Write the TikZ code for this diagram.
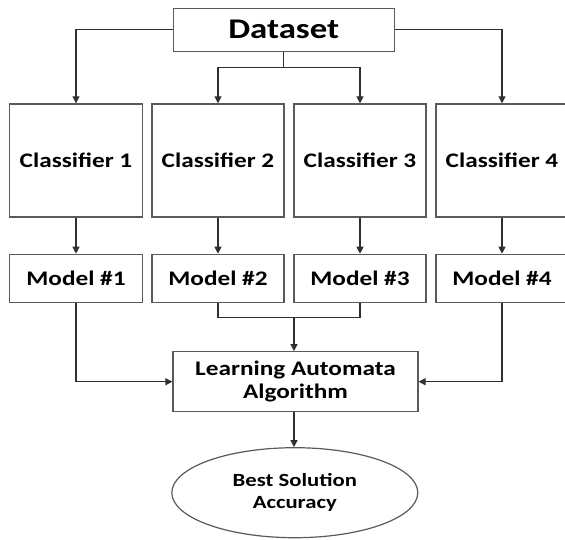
\documentclass[tikz,border=0pt]{standalone}
\usepackage{fontspec}
\setmainfont{Carlito}[FakeStretch=1.22]
\usetikzlibrary{arrows.meta,shapes.geometric}
\definecolor{edge}{HTML}{5A5A5A}
\definecolor{wire}{HTML}{303030}
\tikzset{
  box/.style={draw=edge, line width=1.2pt, fill=white, inner sep=0pt, font=\bfseries\fontsize{20.7}{23.3}\selectfont, align=center},
  conn/.style={draw=wire, line width=1.1pt},
  arr/.style={conn, -{Triangle[length=7pt,width=7pt]}},
}
\begin{document}
\begin{tikzpicture}[x=1pt,y=-1pt]
\useasboundingbox (0,0) rectangle (565,539);
% Dataset
\node[box, minimum width=221pt, minimum height=43pt, font=\bfseries\fontsize{28.5}{30}\selectfont] (ds) at (283.7,29.7) {Dataset};
% Classifiers
\node[box, minimum width=132.5pt, minimum height=113pt] (c1) at (76,160.4) {Classifier 1};
\node[box, minimum width=132pt, minimum height=113pt] (c2) at (218,160.4) {Classifier 2};
\node[box, minimum width=132pt, minimum height=113pt] (c3) at (360,160.4) {Classifier 3};
\node[box, minimum width=132pt, minimum height=113pt] (c4) at (502,160.4) {Classifier 4};
% Models
\node[box, minimum width=132.5pt, minimum height=48pt] (m1) at (76,278.3) {Model \#1};
\node[box, minimum width=132pt, minimum height=48pt] (m2) at (218,278.3) {Model \#2};
\node[box, minimum width=132pt, minimum height=48pt] (m3) at (360,278.3) {Model \#3};
\node[box, minimum width=132pt, minimum height=48pt] (m4) at (502,278.3) {Model \#4};
% Learning automata
\node[box, minimum width=245pt, minimum height=60pt] (la) at (295.5,381.7) {Learning Automata\\Algorithm};
% Ellipse
\node[box, ellipse, minimum width=246pt, minimum height=90pt, font=\bfseries\fontsize{18.6}{22.3}\selectfont] (bs) at (294.8,492.7) {Best Solution\\Accuracy};
% coordinates
\coordinate (split) at (283.7,67.7);
\coordinate (join) at (294,317.7);
% Dataset to classifiers
\draw[arr] (ds.west) -| (c1.north);
\draw[arr] (ds.east) -| (c4.north);
\draw[conn] (ds.south) -- (split);
\draw[arr] (split) -| (c2.north);
\draw[arr] (split) -| (c3.north);
% classifiers to models
\draw[arr] (c1) -- (m1);
\draw[arr] (c2) -- (m2);
\draw[arr] (c3) -- (m3);
\draw[arr] (c4) -- (m4);
% models to LA
\draw[arr] (m1.south) |- (la.west);
\draw[arr] (m4.south) |- (la.east);
\draw[conn] (m2.south) |- (join) -| (m3.south);
\draw[arr] (join) -- (join |- la.north);
% LA to ellipse
\draw[arr] (join |- la.south) -- (join |- bs.north);
\end{tikzpicture}
\end{document}
